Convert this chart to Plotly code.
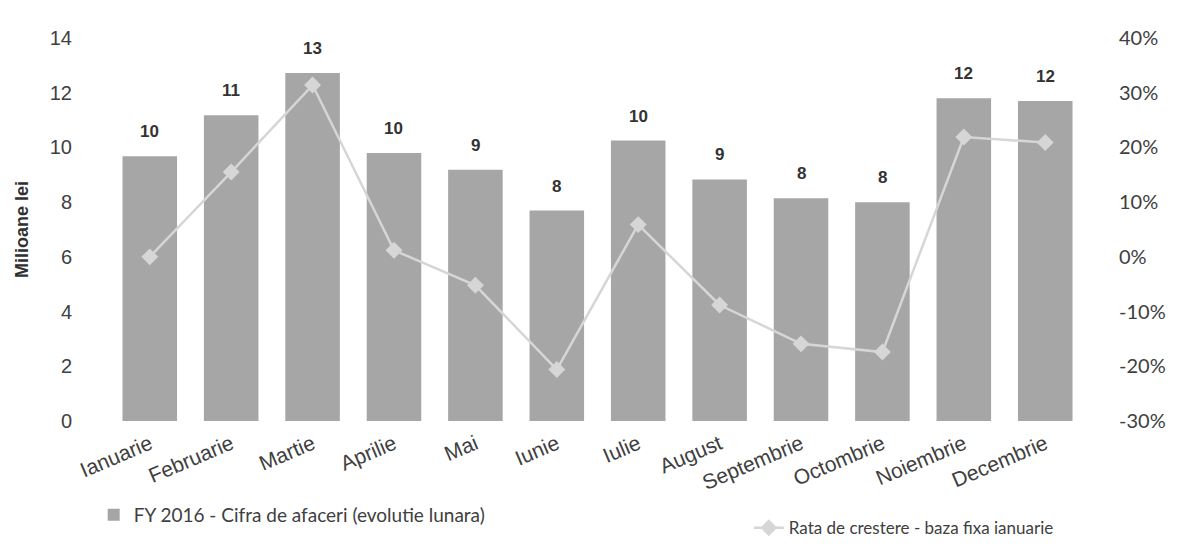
import plotly.graph_objects as go

months = ["Ianuarie", "Februarie", "Martie", "Aprilie", "Mai", "Iunie",
          "Iulie", "August", "Septembrie", "Octombrie", "Noiembrie", "Decembrie"]
revenue = [9.68, 11.18, 12.72, 9.80, 9.18, 7.69, 10.25, 8.83, 8.14, 8.00, 11.80, 11.70]
revenue_labels = ["10", "11", "13", "10", "9", "8", "10", "9", "8", "8", "12", "12"]
growth = [0.0, 0.155, 0.314, 0.012, -0.052, -0.206, 0.059, -0.088, -0.159, -0.174, 0.219, 0.209]
left_ticks = [0, 2, 4, 6, 8, 10, 12, 14]
right_ticks = [-0.3, -0.2, -0.1, 0.0, 0.1, 0.2, 0.3, 0.4]
right_tick_text = ["-30%", "-20%", "-10%", "0%", "10%", "20%", "30%", "40%"]

bar_name = "FY 2016 - Cifra de afaceri (evolutie lunara)"
line_name = "Rata de crestere - baza fixa ianuarie"

fig = go.Figure()
fig.add_trace(go.Bar(
    x=months, y=revenue, name=bar_name,
    marker=dict(color="#a6a6a6", line=dict(width=0)),
    legend="legend",
))
fig.add_trace(go.Scatter(
    x=months, y=growth, name=line_name, yaxis="y2", mode="lines+markers",
    line=dict(color="#d6d6d6", width=2.5),
    marker=dict(symbol="diamond", size=13, color="#d6d6d6"),
    legend="legend2",
))

for m, v, t in zip(months, revenue, revenue_labels):
    fig.add_annotation(
        x=m, y=v, xref="x", yref="y", text=f"<b>{t}</b>", showarrow=False,
        yanchor="bottom", yshift=13,
        font=dict(family="Liberation Sans, Arial", size=17, color="#333333"),
    )

fig.update_layout(
    width=1174, height=538,
    margin=dict(l=83, r=78, t=30, b=125, autoexpand=False),
    paper_bgcolor="white", plot_bgcolor="white",
    bargap=0.33,
    showlegend=True,
    font=dict(family="Liberation Sans, Arial", color="#404040"),
    xaxis=dict(
        showgrid=False, showline=False, zeroline=False,
        tickangle=-23, tickfont=dict(size=21, color="#404040"),
        ticks="", ticklabelstandoff=6,
    ),
    yaxis=dict(
        range=[0, 14], tickvals=left_ticks, showgrid=False, showline=False, zeroline=False,
        tickfont=dict(size=20, color="#404040"), ticklabelstandoff=18,
        title=dict(text="<b>Milioane lei</b>", font=dict(size=18, color="#303030"), standoff=16),
    ),
    yaxis2=dict(
        overlaying="y", side="right", range=[-0.3, 0.4],
        tickvals=right_ticks, ticktext=right_tick_text,
        showgrid=False, showline=False, zeroline=False,
        tickfont=dict(family="Lato, Open Sans", size=20, color="#404040"),
        ticklabelstandoff=14,
    ),
    legend=dict(
        orientation="h", x=0.073, xref="container", y=0.058, yref="container",
        yanchor="middle", xanchor="left",
        font=dict(family="Lato, Open Sans", size=19, color="#404040"),
        bgcolor="rgba(0,0,0,0)",
    ),
    legend2=dict(
        orientation="h", x=0.631, xref="container", y=0.033, yref="container",
        yanchor="middle", xanchor="left",
        font=dict(family="Lato, Open Sans", size=17, color="#404040"),
        bgcolor="rgba(0,0,0,0)",
    ),
)

fig.write_html("out.html")
